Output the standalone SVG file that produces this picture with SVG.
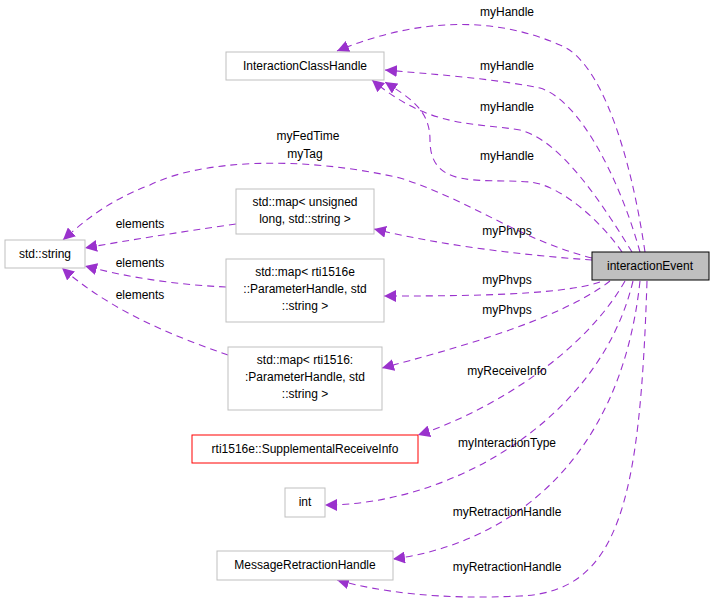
<svg xmlns="http://www.w3.org/2000/svg" width="715" height="612" viewBox="0 0 715 612">
<style>
text{font-family:"Liberation Sans",Arial,sans-serif;font-size:12px;fill:#000;text-anchor:middle}
.n{fill:#fff;stroke:#bfbfbf;stroke-width:1}
.e path{fill:none;stroke:#9a32cd;stroke-width:1.1;stroke-dasharray:7,5;marker-end:url(#a)}
</style>
<defs><marker id="a" viewBox="0 0 10 10" refX="10" refY="5" markerWidth="12" markerHeight="12" markerUnits="userSpaceOnUse" orient="auto"><path d="M0,0 L10,5 L0,10 z" fill="#9a32cd"/></marker></defs>
<rect width="715" height="612" fill="#fff"/>
<g class="e">
<path d="M645,252 C630,150 600,60 560,45 C480,10 400,25 337,51"/>
<path d="M640,252 C620,180 580,100 540,88 C490,78 430,74 385,70"/>
<path d="M632,252 C600,200 560,140 520,130 C470,122 430,128 372,80"/>
<path d="M622,252 C600,220 560,185 530,182 C480,178 430,190 430,140 C430,110 410,98 385,82"/>
<path d="M592,258 C520,240 470,200 400,178 C300,155 200,160 150,185 C110,200 85,220 63,240"/>
<path d="M592,260 C520,255 440,245 374,229"/>
<path d="M600,282 C560,296 450,296 384,296"/>
<path d="M610,281 C560,320 450,350 382,368"/>
<path d="M625,281 C580,360 480,415 418,435"/>
<path d="M633,281 C600,420 450,505 325,505"/>
<path d="M640,281 C620,470 500,545 393,559"/>
<path d="M647,281 C640,500 620,592 520,596 C440,600 380,592 337,580"/>
<path d="M236,224 C180,232 130,240 85,248"/>
<path d="M226,287 C180,285 130,278 85,266"/>
<path d="M228,355 C170,335 110,310 62,268"/>
</g>
<g id="labels">
<text x="507" y="16">myHandle</text>
<text x="507" y="70">myHandle</text>
<text x="507" y="111">myHandle</text>
<text x="507" y="160">myHandle</text>
<text x="308" y="140">myFedTime</text>
<text x="305" y="158">myTag</text>
<text x="140" y="228">elements</text>
<text x="140" y="267">elements</text>
<text x="140" y="299">elements</text>
<text x="507" y="235">myPhvps</text>
<text x="507" y="284">myPhvps</text>
<text x="507" y="314">myPhvps</text>
<text x="507" y="375">myReceiveInfo</text>
<text x="507" y="447">myInteractionType</text>
<text x="507" y="516">myRetractionHandle</text>
<text x="507" y="571">myRetractionHandle</text>
</g>
<g id="interactionEvent"><rect x="592" y="252" width="117" height="28" fill="#bfbfbf" stroke="#000"/><text x="650" y="270">interactionEvent</text></g>
<g id="InteractionClassHandle"><rect class="n" x="226" y="52" width="158" height="28"/><text x="305" y="70">InteractionClassHandle</text></g>
<g id="stdstring"><rect class="n" x="5" y="240" width="80" height="28"/><text x="45" y="258">std::string</text></g>
<g id="mapUnsigned"><rect class="n" x="236" y="189" width="138" height="45"/><text x="305" y="206">std::map&lt; unsigned</text><text x="305" y="223">long, std::string &gt;</text></g>
<g id="map1516e"><rect class="n" x="226" y="259" width="158" height="63"/><text x="305" y="276">std::map&lt; rti1516e</text><text x="305" y="293">::ParameterHandle, std</text><text x="305" y="310">::string &gt;</text></g>
<g id="map1516"><rect class="n" x="228" y="347" width="154" height="63"/><text x="305" y="364">std::map&lt; rti1516:</text><text x="305" y="381">:ParameterHandle, std</text><text x="305" y="398">::string &gt;</text></g>
<g id="Supplemental"><rect x="192" y="435" width="226" height="28" fill="#fff" stroke="#ff0000"/><text x="305" y="453">rti1516e::SupplementalReceiveInfo</text></g>
<g id="int"><rect class="n" x="285" y="488" width="40" height="29"/><text x="305" y="506">int</text></g>
<g id="MRH"><rect class="n" x="217" y="551" width="176" height="29"/><text x="305" y="569">MessageRetractionHandle</text></g>
</svg>
